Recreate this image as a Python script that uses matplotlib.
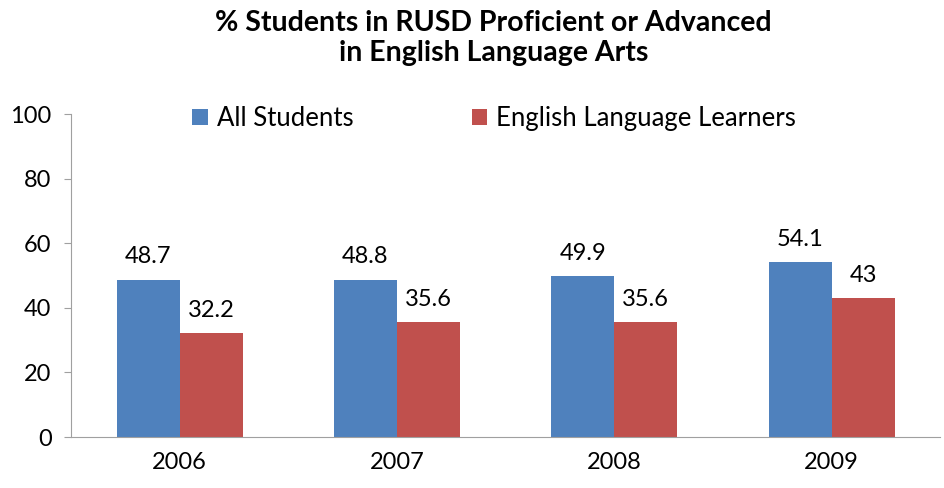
import matplotlib.pyplot as plt
import numpy as np

years = ["2006", "2007", "2008", "2009"]
all_students = [48.7, 48.8, 49.9, 54.1]
ell = [32.2, 35.6, 35.6, 43]
all_labels = ["48.7", "48.8", "49.9", "54.1"]
ell_labels = ["32.2", "35.6", "35.6", "43"]

BLUE = "#4F81BD"
RED = "#C0504D"

plt.rcParams["font.family"] = ["Lato", "DejaVu Sans"]

fig = plt.figure(figsize=(9.45, 4.88), dpi=100)
ax = fig.add_axes([0.0751, 0.1045, 0.92, 0.661])

x = np.arange(len(years))
w = 0.29
b1 = ax.bar(x - w / 2, all_students, w, color=BLUE, label="All Students")
b2 = ax.bar(x + w / 2, ell, w, color=RED, label="English Language Learners")

for bar, lab in zip(b1, all_labels):
    ax.annotate(lab, (bar.get_x() + bar.get_width() / 2, bar.get_height()),
                xytext=(0, 9), textcoords="offset points", ha="center", va="bottom", fontsize=17)
for bar, lab in zip(b2, ell_labels):
    ax.annotate(lab, (bar.get_x() + bar.get_width() / 2, bar.get_height()),
                xytext=(0, 9), textcoords="offset points", ha="center", va="bottom", fontsize=17)

ax.set_xlim(-0.5, 3.5)
ax.set_ylim(0, 100)
ax.set_yticks(range(0, 101, 20))
ax.set_xticks(x)
ax.set_xticklabels(years)
ax.tick_params(axis="x", length=0, labelsize=17, pad=11)
ax.tick_params(axis="y", length=5, color="#A0A0A0", labelsize=17, pad=9)
for s in ["top", "right"]:
    ax.spines[s].set_visible(False)
for s in ["left", "bottom"]:
    ax.spines[s].set_color("#A0A0A0")

fig.text(0.522, 0.922, "% Students in RUSD Proficient or Advanced\nin English Language Arts",
         ha="center", va="center", fontsize=20.5, fontweight="bold", linespacing=1.2)

fig.legend(handles=[b1, b2], loc="center", bbox_to_anchor=(0.523, 0.757), ncol=2,
           frameon=False, fontsize=18.5, handlelength=0.6, handleheight=0.6,
           handletextpad=0.35, columnspacing=4.6)

fig.savefig("out.png", dpi=100)
